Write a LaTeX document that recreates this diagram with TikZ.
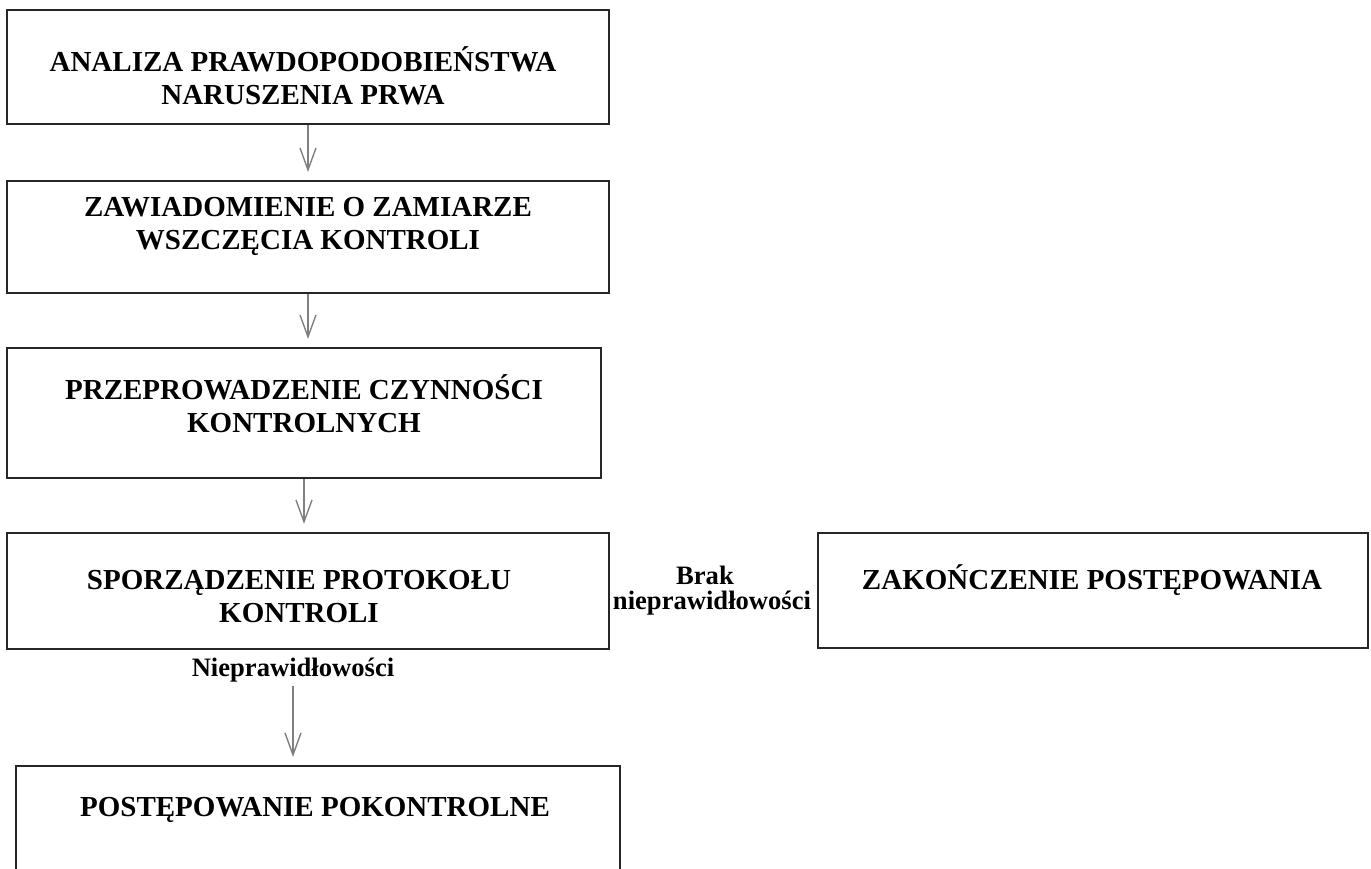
\documentclass[tikz,border=0pt]{standalone}
\usepackage{fontspec}
\setmainfont{Liberation Serif}
\usetikzlibrary{
  arrows.meta,
  positioning,
}
\tikzstyle{box} = [
  draw=black!85,
  line width=1pt,
  inner sep=0pt,
]
\tikzstyle{boxtext} = [
  font=\fontsize{14.5}{16.5}\selectfont\bfseries,
  align=center,
  inner sep=0pt,
]
\tikzstyle{note} = [
  font=\fontsize{13.3}{14}\selectfont\bfseries,
  align=center,
  inner sep=0pt,
]
\tikzstyle{arrow} = [
  -{Straight Barb[length=11pt,width=8pt]},
  line width=0.7pt,
  black!50,
  shorten >=4pt,
]

\begin{document}
\begin{tikzpicture}[x=0.5pt, y=-0.5pt]

        \path [use as bounding box, clip] (0,0) rectangle (1371,868);

        %% the boxes
        \node [box, minimum width=301pt, minimum height=57pt] (analiza) at (308, 67) {};
        \node [box, minimum width=301pt, minimum height=56pt] (zawiad) at (308, 237) {};
        \node [box, minimum width=297pt, minimum height=65pt] (czynn) at (304, 413) {};
        \node [box, minimum width=301pt, minimum height=58pt] (protokol) at (308, 591) {};
        \node [box, minimum width=275pt, minimum height=57.5pt] (koniec) at (1093, 590.5) {};
        \node [box, minimum width=302pt, minimum height=67pt] (pokontr) at (318, 833) {};

        %% texts
        \node [boxtext] (t-analiza) at (303, 76) {ANALIZA PRAWDOPODOBIEŃSTWA\\NARUSZENIA PRWA};
        \node [boxtext] (t-zawiad) at (308, 226) {ZAWIADOMIENIE O ZAMIARZE\\WSZCZĘCIA KONTROLI};
        \node [boxtext] (t-czynn) at (304, 404) {PRZEPROWADZENIE CZYNNOŚCI\\KONTROLNYCH};
        \node [boxtext] (t-protokol) at (299, 597) {SPORZĄDZENIE PROTOKOŁU\\KONTROLI};
        \node [boxtext] (t-koniec) at (1092, 580) {ZAKOŃCZENIE POSTĘPOWANIA};
        \node [boxtext] (t-pokontr) at (315, 810) {POSTĘPOWANIE POKONTROLNE};

        \node [note] (brak) at (705, 575) {Brak};
        \node [note] (brak2) at (712, 603) {nieprawidłowości};
        \node [note] (niepr) at (293, 670) {Nieprawidłowości};

        %% arrows
        \draw [arrow] (analiza.south) -- (zawiad.north);
        \draw [arrow] (zawiad.south) -- (zawiad.south |- czynn.north);
        \draw [arrow] (czynn.south) -- (czynn.south |- protokol.north);
        \draw [arrow] (niepr.south) ++(0,4) -- (niepr.south |- pokontr.north);
      \end{tikzpicture}
\end{document}
